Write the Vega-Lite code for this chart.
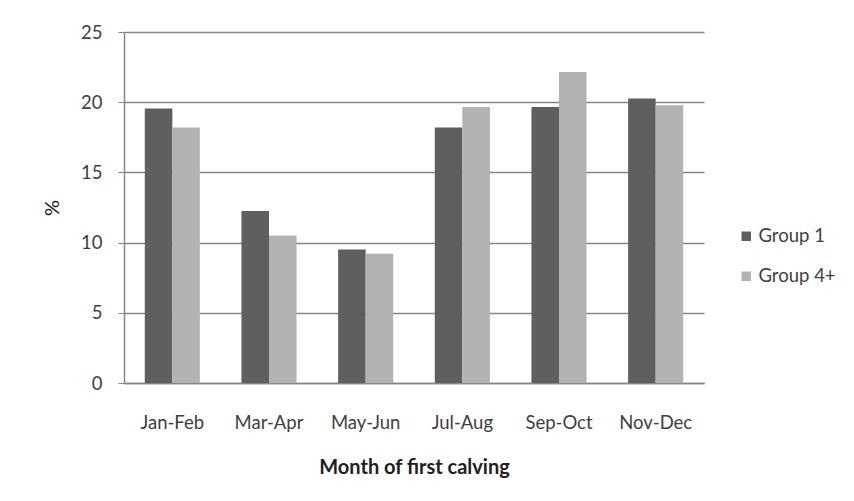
{
  "$schema": "https://vega.github.io/schema/vega-lite/v6.json",
  "autosize": "none",
  "width": 580,
  "height": 351,
  "padding": {"left": 124, "top": 32, "right": 150, "bottom": 118},
  "background": "white",
  "data": {
    "values": [
      {"month": "Jan-Feb", "group": "Group 1", "pct": 19.55},
      {"month": "Jan-Feb", "group": "Group 4+", "pct": 18.2},
      {"month": "Mar-Apr", "group": "Group 1", "pct": 12.25},
      {"month": "Mar-Apr", "group": "Group 4+", "pct": 10.5},
      {"month": "May-Jun", "group": "Group 1", "pct": 9.5},
      {"month": "May-Jun", "group": "Group 4+", "pct": 9.2},
      {"month": "Jul-Aug", "group": "Group 1", "pct": 18.2},
      {"month": "Jul-Aug", "group": "Group 4+", "pct": 19.66},
      {"month": "Sep-Oct", "group": "Group 1", "pct": 19.66},
      {"month": "Sep-Oct", "group": "Group 4+", "pct": 22.15},
      {"month": "Nov-Dec", "group": "Group 1", "pct": 20.26},
      {"month": "Nov-Dec", "group": "Group 4+", "pct": 19.78}
    ]
  },
  "mark": {"type": "bar"},
  "encoding": {
    "x": {
      "field": "month",
      "type": "nominal",
      "sort": null,
      "scale": {"paddingInner": 0.43, "paddingOuter": 0.215},
      "axis": {
        "title": "Month of first calving",
        "labelAngle": 0,
        "labelPadding": 30,
        "ticks": false,
        "domainColor": "#868686",
        "titlePadding": 26,
        "titleFontWeight": "bold"
      }
    },
    "xOffset": {"field": "group", "type": "nominal"},
    "y": {
      "field": "pct",
      "type": "quantitative",
      "scale": {"domain": [0, 25]},
      "axis": {
        "title": "%",
        "values": [0, 5, 10, 15, 20, 25],
        "tickSize": 6,
        "tickColor": "#868686",
        "domainColor": "#868686",
        "gridColor": "#868686",
        "labelPadding": 16,
        "titlePadding": 18,
        "titleFontWeight": "normal"
      }
    },
    "color": {
      "field": "group",
      "type": "nominal",
      "scale": {"domain": ["Group 1", "Group 4+"], "range": ["#5f5f5f", "#b2b2b2"]},
      "legend": {
        "title": null,
        "orient": "none",
        "legendX": 613,
        "legendY": 195,
        "symbolType": "square",
        "symbolSize": 90,
        "symbolStrokeWidth": 0,
        "rowPadding": 21,
        "labelFontSize": 18.5,
        "labelColor": "#404040",
        "labelFont": "Lato",
        "labelOffset": 3
      }
    }
  },
  "config": {
    "view": {"stroke": null},
    "axis": {
      "labelFont": "Lato",
      "titleFont": "Lato",
      "labelFontSize": 18.5,
      "titleFontSize": 20,
      "labelColor": "#404040",
      "titleColor": "#202020",
      "domainWidth": 1.5,
      "gridWidth": 1.5
    }
  }
}
